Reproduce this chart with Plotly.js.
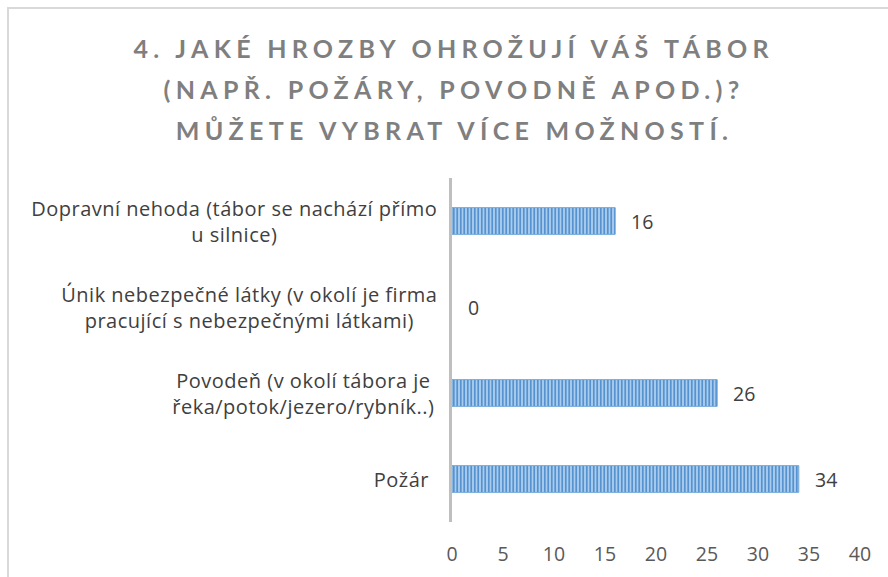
<!DOCTYPE html>
<html>
<head>
<meta charset="utf-8">
<script src="https://cdn.plot.ly/plotly-3.0.1.min.js"></script>
<style>
  html, body { margin: 0; padding: 0; background: #fff; }
  #wrap { position: relative; width: 888px; height: 577px; overflow: hidden; }
  #frame { position: absolute; left: 7px; top: 7px; width: 900px; height: 600px;
           border: 2px solid #d9d9d9; box-sizing: border-box; pointer-events: none; }
  #chart { position: absolute; left: 0; top: 0; width: 888px; height: 577px; }
  .title-line text { letter-spacing: 5.3px; }
  .cat-line text { letter-spacing: 0.5px; }
</style>
</head>
<body>
<div id="wrap">
  <div id="chart"></div>
  <div id="frame"></div>
</div>
<script>
// Data
const titleLines = [
  "4. JAKÉ HROZBY OHROŽUJÍ VÁŠ TÁBOR",
  "(NAPŘ. POŽÁRY, POVODNĚ APOD.)?",
  "MŮŽETE VYBRAT VÍCE MOŽNOSTÍ."
];
const categories = [
  "Dopravní nehoda (tábor se nachází přímo<br>u silnice)",
  "Únik nebezpečné látky (v okolí je firma<br>pracující s nebezpečnými látkami)",
  "Povodeň (v okolí tábora je<br>řeka/potok/jezero/rybník..)",
  "Požár"
];
const values = [16, 0, 26, 34];
const xTicks = [0, 5, 10, 15, 20, 25, 30, 35, 40];

const labelFont = { family: "'Open Sans', Lato, sans-serif", size: 19.5, color: "#404040" };
const catFont = { family: "'Open Sans', Lato, sans-serif", size: 20, color: "#404040" };

const trace = {
  type: "bar",
  orientation: "h",
  x: values,
  y: categories,
  width: 0.31,
  marker: {
    color: "#9fc5e8",
    line: { color: "#6ea5da", width: values.map(v => v > 0 ? 1 : 0) },
    pattern: { shape: "|", fgcolor: "#5592cf", bgcolor: "#aacdee", size: 3.5, solidity: 0.5 }
  },
  hoverinfo: "x+y",
  showlegend: false
};

const annotations = [];
// title lines
const titleY = [1.378, 1.258, 1.139];
titleLines.forEach((t, i) => {
  annotations.push({
    text: t, xref: "paper", yref: "paper", x: 0.005, y: titleY[i],
    xanchor: "center", yanchor: "middle", showarrow: false,
    font: { family: "Lato, 'Open Sans', sans-serif", size: 25, weight: 700, color: "#7f7f7f" }
  });
});
// category labels
categories.forEach((c) => {
  annotations.push({
    text: c, xref: "paper", yref: "y", x: 0, y: c,
    xanchor: "right", yanchor: "middle", align: "center", xshift: -22,
    showarrow: false, font: catFont
  });
});
// value labels
values.forEach((v, i) => {
  annotations.push({
    text: String(v), xref: "x", yref: "y", x: v, y: categories[i],
    xanchor: "left", yanchor: "middle", xshift: 14, showarrow: false, font: labelFont
  });
});

const layout = {
  width: 888, height: 577,
  margin: { l: 452, r: 28, t: 178, b: 55 },
  paper_bgcolor: "rgba(0,0,0,0)",
  plot_bgcolor: "rgba(0,0,0,0)",
  xaxis: {
    range: [0, 40], tickvals: xTicks, ticktext: xTicks.map(String),
    showgrid: false, zeroline: false, showline: false, ticks: "",
    ticklabelstandoff: 18,
    tickfont: { family: "'Open Sans', Lato, sans-serif", size: 19.5, color: "#595959" },
    fixedrange: true
  },
  yaxis: {
    type: "category", autorange: "reversed",
    showticklabels: false, showgrid: false, zeroline: false,
    showline: true, linecolor: "#bfbfbf", linewidth: 3, ticks: "",
    fixedrange: true
  },
  annotations: annotations,
  bargap: 0.69
};

Plotly.newPlot("chart", [trace], layout, { displayModeBar: false, staticPlot: true }).then(() => {
  document.querySelectorAll("#chart g.annotation").forEach((g) => {
    const idx = Number(g.getAttribute("data-index"));
    if (idx < titleLines.length) g.classList.add("title-line");
    else if (idx < titleLines.length + categories.length) g.classList.add("cat-line");
  });
});
</script>
</body>
</html>
